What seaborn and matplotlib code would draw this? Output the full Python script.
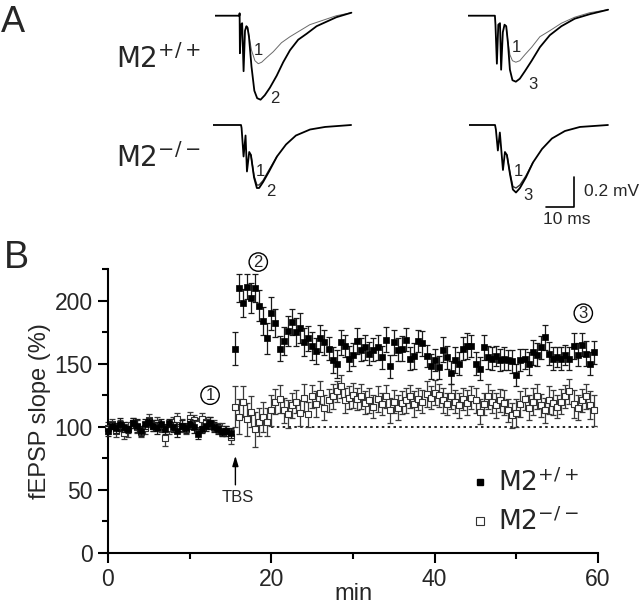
"""
fEPSP traces (A) and LTP time course (B) for M2+/+ vs M2-/- slices
"""

import numpy as np
import pandas as pd
import matplotlib
matplotlib.use("Agg")
import matplotlib.pyplot as plt
import seaborn as sns
from matplotlib.lines import Line2D

# ---------------- panel A: example traces (time in ms, voltage in mV) ----------------
# top-left: M2+/+, trace 2 (after TBS, thick) and trace 1 (baseline, thin)
tl_t2 = [0, 8.6, 8.7, 8.8, 9.2, 9.6, 10.1, 10.6, 11.1, 11.5, 12.0, 12.9, 13.9, 14.9, 16.1,
         17.6, 19.4, 21.8, 24.1, 26.5, 29.4, 32.4, 35.9, 39.4, 42.9, 48.2]
tl_v2 = [0, 0, 0.016, -0.25, -0.06, -0.05, -0.37, -0.10, -0.07, -0.08, -0.14, -0.34, -0.50,
         -0.55, -0.56, -0.53, -0.48, -0.40, -0.31, -0.23, -0.16, -0.12, -0.07, -0.04, -0.01, 0.02]
tl_t1 = [11.5, 12.0, 12.9, 14.1, 15.3, 16.5, 18.2, 20.6, 23.5, 26.5, 30.0, 33.5, 38.2, 42.9, 48.2]
tl_v1 = [-0.08, -0.13, -0.23, -0.30, -0.32, -0.31, -0.28, -0.24, -0.18, -0.14, -0.10, -0.06,
         -0.03, 0.00, 0.02]

# top-right: M2+/+, trace 3 (60 min, thick) and trace 1
tr_t3 = [0, 9.4, 9.6, 10.1, 10.6, 11.2, 11.6, 12.2, 12.8, 13.4, 14.0, 14.7, 15.6, 16.8, 18.2,
         20.0, 22.4, 25.3, 28.8, 32.9, 37.6, 42.9, 49.4]
tr_v3 = [0, 0, -0.06, -0.32, -0.06, -0.05, -0.36, -0.11, -0.06, -0.07, -0.18, -0.36, -0.43,
         -0.44, -0.42, -0.37, -0.30, -0.21, -0.13, -0.07, -0.02, 0.01, 0.04]
tr_t1 = [13.4, 14.0, 14.7, 15.6, 16.8, 18.2, 20.0, 22.4, 25.3, 28.8, 32.9, 37.6, 42.9, 49.4]
tr_v1 = [-0.07, -0.17, -0.26, -0.30, -0.31, -0.30, -0.26, -0.21, -0.14, -0.10, -0.05, -0.01,
         0.02, 0.04]

# bottom-left: M2-/-, trace 2 and trace 1
bl_t2 = [0, 9.9, 10.1, 10.8, 11.5, 12.0, 12.8, 13.4, 14.5, 15.5, 16.3, 17.7, 19.8, 22.6, 25.8,
         29.3, 34.3, 39.6, 48.8]
bl_v2 = [0, 0, -0.02, -0.21, -0.07, -0.31, -0.18, -0.20, -0.35, -0.42, -0.42, -0.38, -0.31,
         -0.21, -0.13, -0.07, -0.03, -0.013, 0.0]
bl_t1 = [13.4, 14.5, 15.5, 16.3, 17.7, 19.8, 22.6]
bl_v1 = [-0.20, -0.34, -0.40, -0.40, -0.37, -0.30, -0.21]

# bottom-right: M2-/-, trace 3 and trace 1
br_t3 = [0, 9.2, 9.5, 10.2, 10.9, 12.0, 12.7, 13.4, 14.5, 15.5, 16.6, 18.0, 20.1, 22.6, 25.8,
         29.3, 33.9, 39.2, 49.1]
br_v3 = [0, 0, -0.03, -0.17, -0.05, -0.30, -0.18, -0.20, -0.33, -0.43, -0.45, -0.42, -0.35,
         -0.25, -0.16, -0.09, -0.04, -0.013, 0.0]
br_t1 = [13.4, 14.5, 15.5, 16.6, 18.0, 20.1, 22.6]
br_v1 = [-0.20, -0.32, -0.41, -0.42, -0.40, -0.34, -0.25]

# ---------------- panel B: fEPSP slope (% of baseline), one point every 30 s ----------------
minutes = np.arange(0, 60, 0.5)

wt_slope = [
    97, 101, 99, 102, 100, 98, 103, 101, 97, 102,
    104, 101, 99, 102, 98, 103, 100, 97, 101, 99,
    102, 100, 94, 98, 101, 103, 100, 98, 96, 97,
    95,
    162, 210, 198, 211, 202, 210, 196, 184, 170, 190,
    182, 162, 168, 176, 183, 175, 178, 167, 170, 164,
    160, 170, 167, 162, 153, 150, 167, 164, 154, 157,
    168, 161, 163, 158, 161, 163, 155, 169, 148, 167,
    161, 162, 169, 154, 156, 168, 166, 156, 148, 153,
    147, 161, 155, 143, 153, 150, 162, 164, 164, 150,
    146, 163, 155, 154, 156, 153, 154, 153, 152, 141,
    153, 154, 150, 159, 157, 163, 171, 158, 154, 155,
    154, 157, 154, 164, 157, 165, 158, 150, 159,
]
wt_sem = [
    4, 3, 4, 5, 4, 3, 4, 5, 4, 4,
    3, 4, 5, 4, 4, 3, 4, 5, 4, 4,
    4, 5, 4, 3, 4, 5, 4, 4, 3, 4,
    4,
    13, 11, 11, 10, 12, 11, 12, 11, 12, 13,
    11, 10, 11, 12, 10, 11, 12, 11, 10, 11,
    10, 11, 10, 9, 10, 11, 10, 9, 10, 9,
    10, 9, 10, 9, 9, 10, 9, 10, 9, 10,
    9, 10, 9, 9, 10, 9, 10, 9, 10, 9,
    9, 10, 9, 9, 10, 9, 9, 10, 9, 9,
    9, 10, 9, 9, 8, 9, 9, 8, 9, 9,
    9, 8, 9, 10, 9, 9, 10, 9, 9, 8,
    9, 8, 9, 10, 9, 9, 10, 9, 9,
]
ko_slope = [
    99, 102, 97, 101, 95, 98, 103, 100, 96, 99,
    105, 101, 103, 100, 91, 99, 104, 106, 101, 98,
    107, 105, 102, 106, 104, 103, 101, 99, 98, 97,
    92,
    116, 108, 120, 106, 112, 98, 104, 108, 104, 113,
    120, 122, 113, 110, 117, 120, 111, 123, 110, 124,
    118, 127, 115, 121, 124, 128, 132, 121, 123, 125,
    122, 124, 119, 121, 116, 122, 118, 124, 113, 120,
    115, 119, 121, 124, 118, 122, 120, 126, 123, 127,
    125, 121, 118, 124, 120, 117, 122, 119, 123, 121,
    112, 118, 124, 120, 117, 121, 119, 113, 109, 111,
    118, 122, 115, 120, 124, 117, 113, 121, 119, 116,
    120, 124, 128, 118, 115, 121, 124, 117, 113,
]
ko_sem = [
    5, 4, 5, 4, 5, 6, 4, 5, 4, 5,
    5, 4, 5, 4, 6, 5, 4, 5, 5, 4,
    5, 4, 5, 5, 4, 5, 4, 4, 5, 4,
    6,
    16, 14, 12, 13, 12, 14, 11, 12, 11, 12,
    10, 11, 10, 11, 10, 9, 10, 11, 10, 9,
    10, 9, 10, 9, 10, 8, 9, 10, 9, 10,
    9, 10, 9, 10, 9, 10, 9, 9, 10, 9,
    10, 9, 10, 9, 10, 9, 9, 10, 9, 10,
    9, 10, 9, 10, 9, 10, 9, 10, 9, 10,
    10, 9, 10, 9, 10, 9, 10, 9, 10, 11,
    10, 9, 10, 11, 10, 9, 10, 11, 10, 9,
    10, 9, 10, 11, 10, 9, 10, 11, 12,
]
genotypes = ["M2$^{+/+}$", "M2$^{-/-}$"]

W, H = 640, 606


def px_axes(fig, x0, y0, w, h):
    """add axes from pixel box (left, top, width, height)"""
    return fig.add_axes([x0 / W, 1 - (y0 + h) / H, w / W, h / H])


def trace_axes(fig, x0, base_y):
    # 2.83 px per ms, 150 px per mV; xlim 0..50 ms, ylim -0.65..0.1 mV
    ax = px_axes(fig, x0, base_y - 15, 50 * 2.83, 0.75 * 150)
    ax.set_xlim(0, 50)
    ax.set_ylim(-0.65, 0.1)
    ax.axis("off")
    return ax


def draw_trace(ax, t_main, v_main, t_ref, v_ref, ref_color, ref_lw):
    sns.lineplot(x=t_ref, y=v_ref, ax=ax, color=ref_color, lw=ref_lw, sort=False)
    sns.lineplot(x=t_main, y=v_main, ax=ax, color="black", lw=1.3, sort=False)


def main():
    sns.set_theme(style="ticks")
    plt.rcParams["font.family"] = ["Liberation Sans", "DejaVu Sans"]
    plt.rcParams["mathtext.default"] = "regular"

    fig = plt.figure(figsize=(W / 100, H / 100), dpi=100)

    # ---- panel A ----
    fig.text(1 / W, 1 - 5 / H, "A", fontsize=26, va="top", ha="left")
    fig.text(116 / W, 1 - 68 / H, genotypes[0], fontsize=20, family="DejaVu Sans",
             va="baseline")
    fig.text(116 / W, 1 - 167 / H, genotypes[1], fontsize=20, family="DejaVu Sans",
             va="baseline")

    ax_tl = trace_axes(fig, 215, 15.7)
    draw_trace(ax_tl, tl_t2, tl_v2, tl_t1, tl_v1, "#6a6a6a", 0.7)
    ax_tl.text(15.3, -0.23, "1", fontsize=12, ha="center", va="center")
    ax_tl.text(21.2, -0.55, "2", fontsize=12, ha="center", va="center")

    ax_tr = trace_axes(fig, 468.3, 15.7)
    draw_trace(ax_tr, tr_t3, tr_v3, tr_t1, tr_v1, "#6a6a6a", 0.7)
    ax_tr.text(17.1, -0.21, "1", fontsize=12, ha="center", va="center")
    ax_tr.text(23.0, -0.46, "3", fontsize=12, ha="center", va="center")

    ax_bl = trace_axes(fig, 213, 125)
    draw_trace(ax_bl, bl_t2, bl_v2, bl_t1, bl_v1, "#333333", 1.0)
    ax_bl.text(16.6, -0.31, "1", fontsize=12, ha="center", va="center")
    ax_bl.text(20.4, -0.44, "2", fontsize=12, ha="center", va="center")

    ax_br = trace_axes(fig, 469, 125)
    draw_trace(ax_br, br_t3, br_v3, br_t1, br_v1, "#333333", 1.0)
    ax_br.text(17.3, -0.31, "1", fontsize=12, ha="center", va="center")
    ax_br.text(20.8, -0.47, "3", fontsize=12, ha="center", va="center")
    # scale bar: 10 ms x 0.2 mV
    ax_br.plot([27.1, 37.1, 37.1], [-0.545, -0.545, -0.345], color="black", lw=1.2,
               clip_on=False)
    ax_br.text(40.6, -0.445, "0.2 mV", fontsize=12.5, ha="left", va="center", clip_on=False)
    ax_br.text(34.6, -0.633, "10 ms", fontsize=12.5, ha="center", va="center", clip_on=False)

    # ---- panel B ----
    fig.text(4 / W, 1 - 258 / H, "B", fontsize=27, va="center", ha="left")
    ax = px_axes(fig, 108, 269, 490, 284)

    df = pd.DataFrame({
        "min": np.concatenate([minutes, minutes]),
        "slope": wt_slope + ko_slope,
        "sem": wt_sem + ko_sem,
        "genotype": [genotypes[0]] * len(minutes) + [genotypes[1]] * len(minutes),
    })
    wt = df[df["genotype"] == genotypes[0]]
    ko = df[df["genotype"] == genotypes[1]]

    ax.errorbar(ko["min"], ko["slope"], yerr=ko["sem"], fmt="none", ecolor="#3a3a3a",
                elinewidth=0.9, capsize=2.2, capthick=0.9, clip_on=False, zorder=2)
    sns.scatterplot(data=ko, x="min", y="slope", ax=ax, marker="s", s=22,
                    facecolor="white", edgecolor="#333333", linewidth=0.8, zorder=3,
                    clip_on=False)
    ax.errorbar(wt["min"], wt["slope"], yerr=wt["sem"], fmt="none", ecolor="#1a1a1a",
                elinewidth=0.9, capsize=2.2, capthick=0.9, clip_on=False, zorder=4)
    sns.scatterplot(data=wt, x="min", y="slope", ax=ax, marker="s", s=20,
                    color="black", edgecolor="black", linewidth=0.5, zorder=5,
                    clip_on=False)

    ax.hlines(100, 20, 60, colors="black", linestyles=(0, (1.5, 2)), lw=1.2, zorder=1)

    ax.set_xlim(0, 60)
    ax.set_ylim(0, 225)
    ax.set_xticks([0, 20, 40, 60])
    ax.set_xticks([10, 30, 50], minor=True)
    ax.set_yticks([0, 50, 100, 150, 200])
    ax.set_yticks([25, 75, 125, 175, 225], minor=True)
    ax.tick_params(which="major", length=7, width=1.5, labelsize=16.5, pad=4, color="black")
    ax.tick_params(which="minor", length=4, width=1.5, color="black")
    for side in ["left", "bottom"]:
        ax.spines[side].set_linewidth(1.5)
        ax.spines[side].set_color("black")
    sns.despine(ax=ax)

    ax.set_xlabel("min", fontsize=17)
    ax.set_ylabel("fEPSP slope (%)", fontsize=17)
    ax.xaxis.set_label_coords(0.5, (553 - 594) / 284)
    ax.xaxis.label.set_va("center")
    ax.yaxis.set_label_coords((40 - 108) / 490, 0.5)
    ax.yaxis.label.set_va("center")

    # TBS arrow
    ax.annotate("", xy=(15.6, 77), xytext=(15.6, 54),
                arrowprops=dict(arrowstyle="-|>,head_length=0.5,head_width=0.15",
                                color="black", lw=1, shrinkA=0, shrinkB=0))
    ax.text(15.9, 44, "TBS", fontsize=12, ha="center", va="center")

    # circled time points
    circ = dict(boxstyle="circle,pad=0.1", fc="white", ec="black", lw=1)
    ax.text(12.5, 125, "1", fontsize=12, ha="center", va="center", bbox=circ, clip_on=False)
    ax.text(18.4, 230.5, "2", fontsize=12, ha="center", va="center", bbox=circ, clip_on=False)
    ax.text(58.2, 190, "3", fontsize=12, ha="center", va="center", bbox=circ, clip_on=False)

    handles = [
        Line2D([], [], ls="none", marker="s", ms=5, mfc="black", mec="black"),
        Line2D([], [], ls="none", marker="s", ms=5.5, mfc="white", mec="#333333", mew=0.8),
    ]
    ax.legend(handles, genotypes, loc="center left", bbox_to_anchor=(0.743, 0.178),
              frameon=False, prop=dict(family="DejaVu Sans", size=19),
              handlelength=0.6, handletextpad=0.4, labelspacing=0.4,
              borderpad=0, borderaxespad=0)

    fig.savefig("out.png", dpi=100)
    plt.close(fig)


if __name__ == "__main__":
    main()
